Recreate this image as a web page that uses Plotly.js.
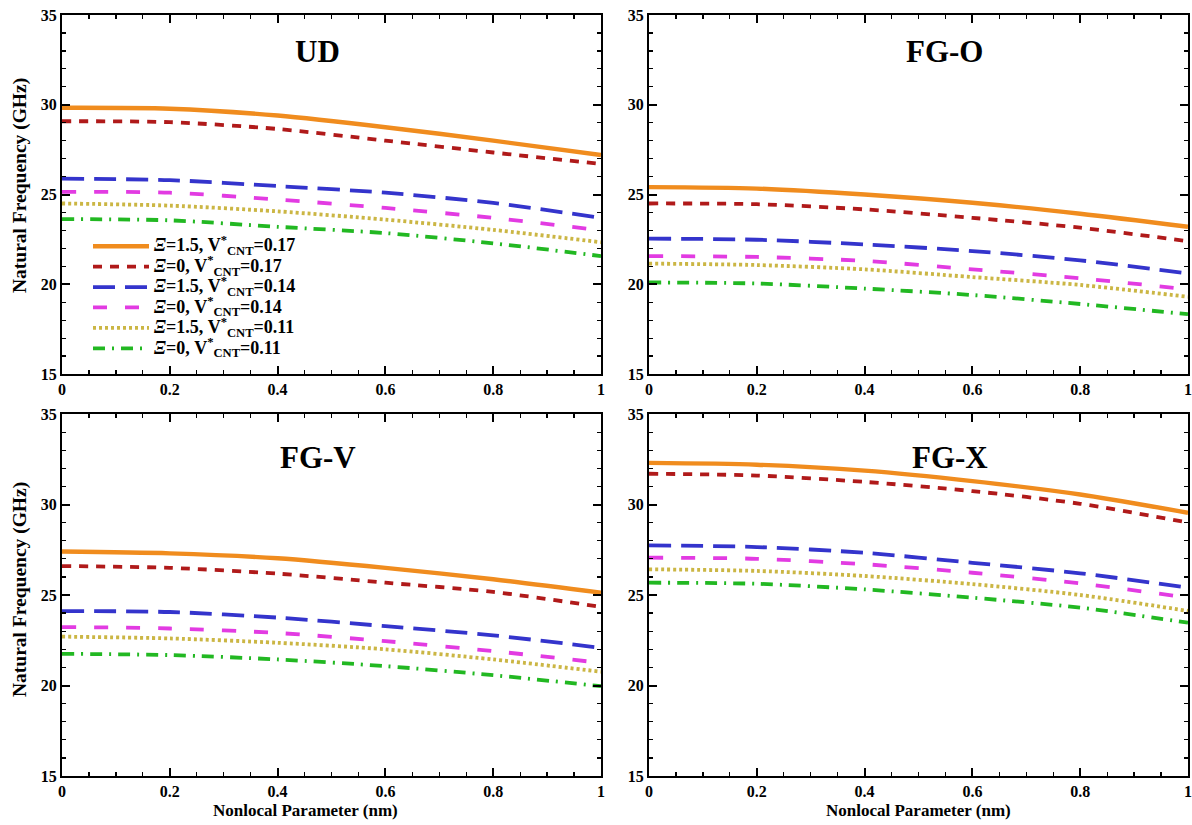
<!DOCTYPE html>
<html>
<head>
<meta charset="utf-8">
<script src="https://cdn.plot.ly/plotly-3.0.1.min.js"></script>
<style>html,body{margin:0;padding:0;background:#fff;}#chart{width:1192px;height:825px;}</style>
</head>
<body>
<div id="chart"></div>
<script>
// Nonlocal parameter (nm)
const nonlocal = [0, 0.2, 0.4, 0.6, 0.8, 1];

// Series labels (Ξ, V*CNT)
const seriesLabels = [
  "<i>Ξ</i>=1.5, V<sup>*</sup><sub>CNT</sub>=0.17",
  "<i>Ξ</i>=0, V<sup>*</sup><sub>CNT</sub>=0.17",
  "<i>Ξ</i>=1.5, V<sup>*</sup><sub>CNT</sub>=0.14",
  "<i>Ξ</i>=0, V<sup>*</sup><sub>CNT</sub>=0.14",
  "<i>Ξ</i>=1.5, V<sup>*</sup><sub>CNT</sub>=0.11",
  "<i>Ξ</i>=0, V<sup>*</sup><sub>CNT</sub>=0.11"
];

// Natural frequency (GHz), one row per series
const freqUD = [
  [29.83, 29.78, 29.40, 28.75, 28.00, 27.20],
  [29.08, 29.03, 28.65, 28.00, 27.34, 26.70],
  [25.88, 25.80, 25.47, 25.10, 24.53, 23.70],
  [25.15, 25.10, 24.72, 24.25, 23.70, 23.00],
  [24.50, 24.38, 24.06, 23.60, 23.03, 22.34],
  [23.63, 23.56, 23.20, 22.85, 22.28, 21.57]
];
const freqFGO = [
  [25.41, 25.33, 25.00, 24.54, 23.93, 23.20],
  [24.50, 24.46, 24.17, 23.70, 23.15, 22.40],
  [22.54, 22.48, 22.22, 21.85, 21.33, 20.60],
  [21.57, 21.52, 21.30, 20.83, 20.33, 19.72],
  [21.15, 21.07, 20.83, 20.40, 19.96, 19.30],
  [20.10, 20.04, 19.76, 19.40, 18.90, 18.33]
];
const freqFGV = [
  [27.40, 27.30, 27.03, 26.50, 25.87, 25.13],
  [26.60, 26.50, 26.18, 25.68, 25.17, 24.34],
  [24.11, 24.06, 23.75, 23.28, 22.77, 22.08],
  [23.23, 23.15, 22.90, 22.45, 21.90, 21.25],
  [22.70, 22.60, 22.36, 22.00, 21.44, 20.76],
  [21.75, 21.68, 21.44, 21.07, 20.57, 19.96]
];
const freqFGX = [
  [32.30, 32.20, 31.87, 31.29, 30.55, 29.54],
  [31.70, 31.60, 31.25, 30.74, 30.04, 29.00],
  [27.74, 27.65, 27.33, 26.78, 26.20, 25.40],
  [27.06, 27.00, 26.70, 26.23, 25.64, 24.85],
  [26.42, 26.33, 26.05, 25.60, 25.00, 24.12],
  [25.68, 25.62, 25.31, 24.85, 24.30, 23.47]
];

const panelNames = ["UD", "FG-O", "FG-V", "FG-X"];
const panelData = [freqUD, freqFGO, freqFGV, freqFGX];

// styles
const lineStyles = [
  {color: "#F08C1E", width: 4.4, dash: "solid"},
  {color: "#B01A1A", width: 3.8, dash: "9px,8px"},
  {color: "#3434CC", width: 3.8, dash: "22px,10px"},
  {color: "#E23BE2", width: 3.8, dash: "14px,18px"},
  {color: "#CBB644", width: 3.8, dash: "3px,3px"},
  {color: "#22B822", width: 3.8, dash: "12px,7px,2px,7px"}
];

const FONT = "Liberation Serif, Times New Roman, serif";
const axisNames = [["x", "y"], ["x2", "y2"], ["x3", "y3"], ["x4", "y4"]];

const traces = [];
panelData.forEach((pd, p) => {
  pd.forEach((vals, i) => {
    traces.push({
      x: nonlocal, y: vals, type: "scatter", mode: "lines",
      line: Object.assign({shape: "spline", smoothing: 0.8}, lineStyles[i]),
      name: '<span style="font-size:18px">' + seriesLabels[i] + '</span>',
      showlegend: p === 0,
      xaxis: axisNames[p][0], yaxis: axisNames[p][1], hoverinfo: "skip"
    });
  });
});

const W = 1192, H = 825;
const xDom = [[62 / W, 601 / W], [649 / W, 1188 / W]];
const yDom = [[1 - 374 / H, 1 - 15 / H], [1 - 776 / H, 1 - 414 / H]];

function xAx(dom, anchor) {
  return {
    domain: dom, anchor: anchor, range: [0, 1], dtick: 0.2, tick0: 0,
    ticks: "inside", ticklen: 8, tickwidth: 2, tickcolor: "#000",
    minor: {dtick: 0.05, ticks: "inside", ticklen: 4, tickwidth: 1.2, tickcolor: "#000"},
    showline: true, linewidth: 2, linecolor: "#000", mirror: "ticks",
    showgrid: false, zeroline: false, automargin: false,
    tickfont: {family: FONT, size: 16, color: "#000", weight: "bold"}
  };
}
function yAx(dom, anchor) {
  return {
    domain: dom, anchor: anchor, range: [15, 35], dtick: 5, tick0: 15,
    ticks: "inside", ticklen: 8, tickwidth: 2, tickcolor: "#000",
    minor: {dtick: 1, ticks: "inside", ticklen: 4, tickwidth: 1.2, tickcolor: "#000"},
    showline: true, linewidth: 2, linecolor: "#000", mirror: "ticks",
    showgrid: false, zeroline: false, automargin: false,
    tickfont: {family: FONT, size: 16, color: "#000", weight: "bold"}
  };
}

const layout = {
  width: W, height: H,
  margin: {l: 0, r: 0, t: 0, b: 0},
  paper_bgcolor: "#fff", plot_bgcolor: "#fff",
  showlegend: true,
  xaxis: xAx(xDom[0], "y"), yaxis: yAx(yDom[0], "x"),
  xaxis2: xAx(xDom[1], "y2"), yaxis2: yAx(yDom[0], "x2"),
  xaxis3: xAx(xDom[0], "y3"), yaxis3: yAx(yDom[1], "x3"),
  xaxis4: xAx(xDom[1], "y4"), yaxis4: yAx(yDom[1], "x4"),
  legend: {
    x: 88 / W, y: 1 - 231 / H, xanchor: "left", yanchor: "top",
    bgcolor: "rgba(0,0,0,0)", borderwidth: 0, itemwidth: 56,
    tracegroupgap: 0,
    font: {family: FONT, size: 13.4, color: "#000", weight: "bold"}
  },
  annotations: [
    {text: "UD", x: 318 / W, y: 1 - 52 / H},
    {text: "FG-O", x: 945 / W, y: 1 - 52 / H},
    {text: "FG-V", x: 318 / W, y: 1 - 457 / H},
    {text: "FG-X", x: 950 / W, y: 1 - 457 / H}
  ].map(a => Object.assign({
    xref: "paper", yref: "paper", showarrow: false, xanchor: "center", yanchor: "middle",
    font: {family: FONT, size: 31, color: "#000", weight: "bold"}
  }, a)).concat([
    {text: "Natural Frequency (GHz)", x: 20 / W, y: 1 - 186 / H, textangle: -90, size: 19.5},
    {text: "Natural Frequency (GHz)", x: 20 / W, y: 1 - 590 / H, textangle: -90, size: 19.5},
    {text: "Nonlocal Parameter (nm)", x: 305 / W, y: 1 - 810 / H, size: 17},
    {text: "Nonlocal Parameter (nm)", x: 918 / W, y: 1 - 810 / H, size: 17}
  ].map(a => {
    const s = a.size; delete a.size;
    return Object.assign({
      xref: "paper", yref: "paper", showarrow: false, xanchor: "center", yanchor: "middle",
      font: {family: FONT, size: s, color: "#000", weight: "bold"}
    }, a);
  }))
};

Plotly.newPlot("chart", traces, layout, {displayModeBar: false, staticPlot: true});
</script>
</body>
</html>
